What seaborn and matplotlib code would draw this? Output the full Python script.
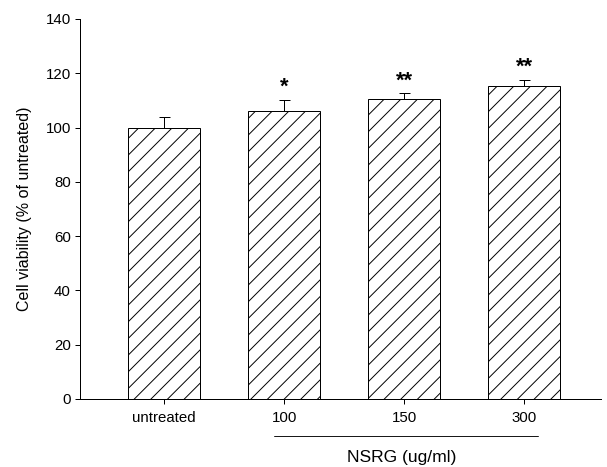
import matplotlib
matplotlib.use("Agg")
import matplotlib.pyplot as plt
import matplotlib.transforms as mtransforms
import seaborn as sns
import pandas as pd

categories = ["untreated", "100", "150", "300"]
viability = [100.0, 106.0, 110.7, 115.3]
sem = [4.0, 4.3, 1.9, 2.3]
stars = ["", "*", "**", "**"]

sns.set_theme(style="ticks")
plt.rcParams['font.family'] = ['Liberation Sans', 'DejaVu Sans']
plt.rcParams['hatch.linewidth'] = 0.7

DPI = 100
PX = 72 / DPI  # points per pixel
fig = plt.figure(figsize=(607 / DPI, 467 / DPI), dpi=DPI)
ax = fig.add_axes([80 / 607, 68 / 467, 521 / 607, 380 / 467])

df = pd.DataFrame({"cat": categories, "val": viability})
sns.barplot(data=df, x="cat", y="val", color="white", edgecolor="black",
            linewidth=1.0 * PX, width=0.6, errorbar=None, ax=ax, saturation=1)
for p in ax.patches:
    p.set_hatch("//")
    p.set_facecolor("white")
    p.set_edgecolor("black")

ax.errorbar(range(len(categories)), viability, yerr=[[0] * len(sem), sem],
            fmt="none", ecolor="black", elinewidth=1.0 * PX, capsize=5.5 * PX,
            capthick=1.0 * PX)

for i, s in enumerate(stars):
    if s:
        ax.text(i, viability[i] + sem[i] + 2.6, s, ha="center", va="baseline",
                fontsize=22 * PX, fontweight="bold", color="black")

ax.set_xlim(-0.7, 3.64)
ax.set_ylim(0, 140)
ax.set_yticks(range(0, 141, 20))
ax.set_xlabel("")
ax.set_ylabel("Cell viability (% of untreated)", fontsize=16 * PX,
              labelpad=14 * PX, color="black")
sns.despine(ax=ax)
for sp in ["left", "bottom"]:
    ax.spines[sp].set_linewidth(1.0 * PX)
    ax.spines[sp].set_color("black")
ax.tick_params(axis="both", direction="out", length=5 * PX, width=1.0 * PX,
               colors="black", labelsize=15 * PX)
ax.tick_params(axis="x", pad=7 * PX)
ax.tick_params(axis="y", pad=4 * PX)

trans = mtransforms.blended_transform_factory(ax.transData, ax.transAxes)
ax.plot([0.917, 3.117], [-0.097, -0.097], transform=trans, color="black",
        linewidth=0.9 * PX, clip_on=False)
ax.text(1.98, -0.155, "NSRG (ug/ml)", transform=trans, ha="center", va="center",
        fontsize=17.5 * PX, color="black")

fig.savefig("out.png", dpi=DPI)
